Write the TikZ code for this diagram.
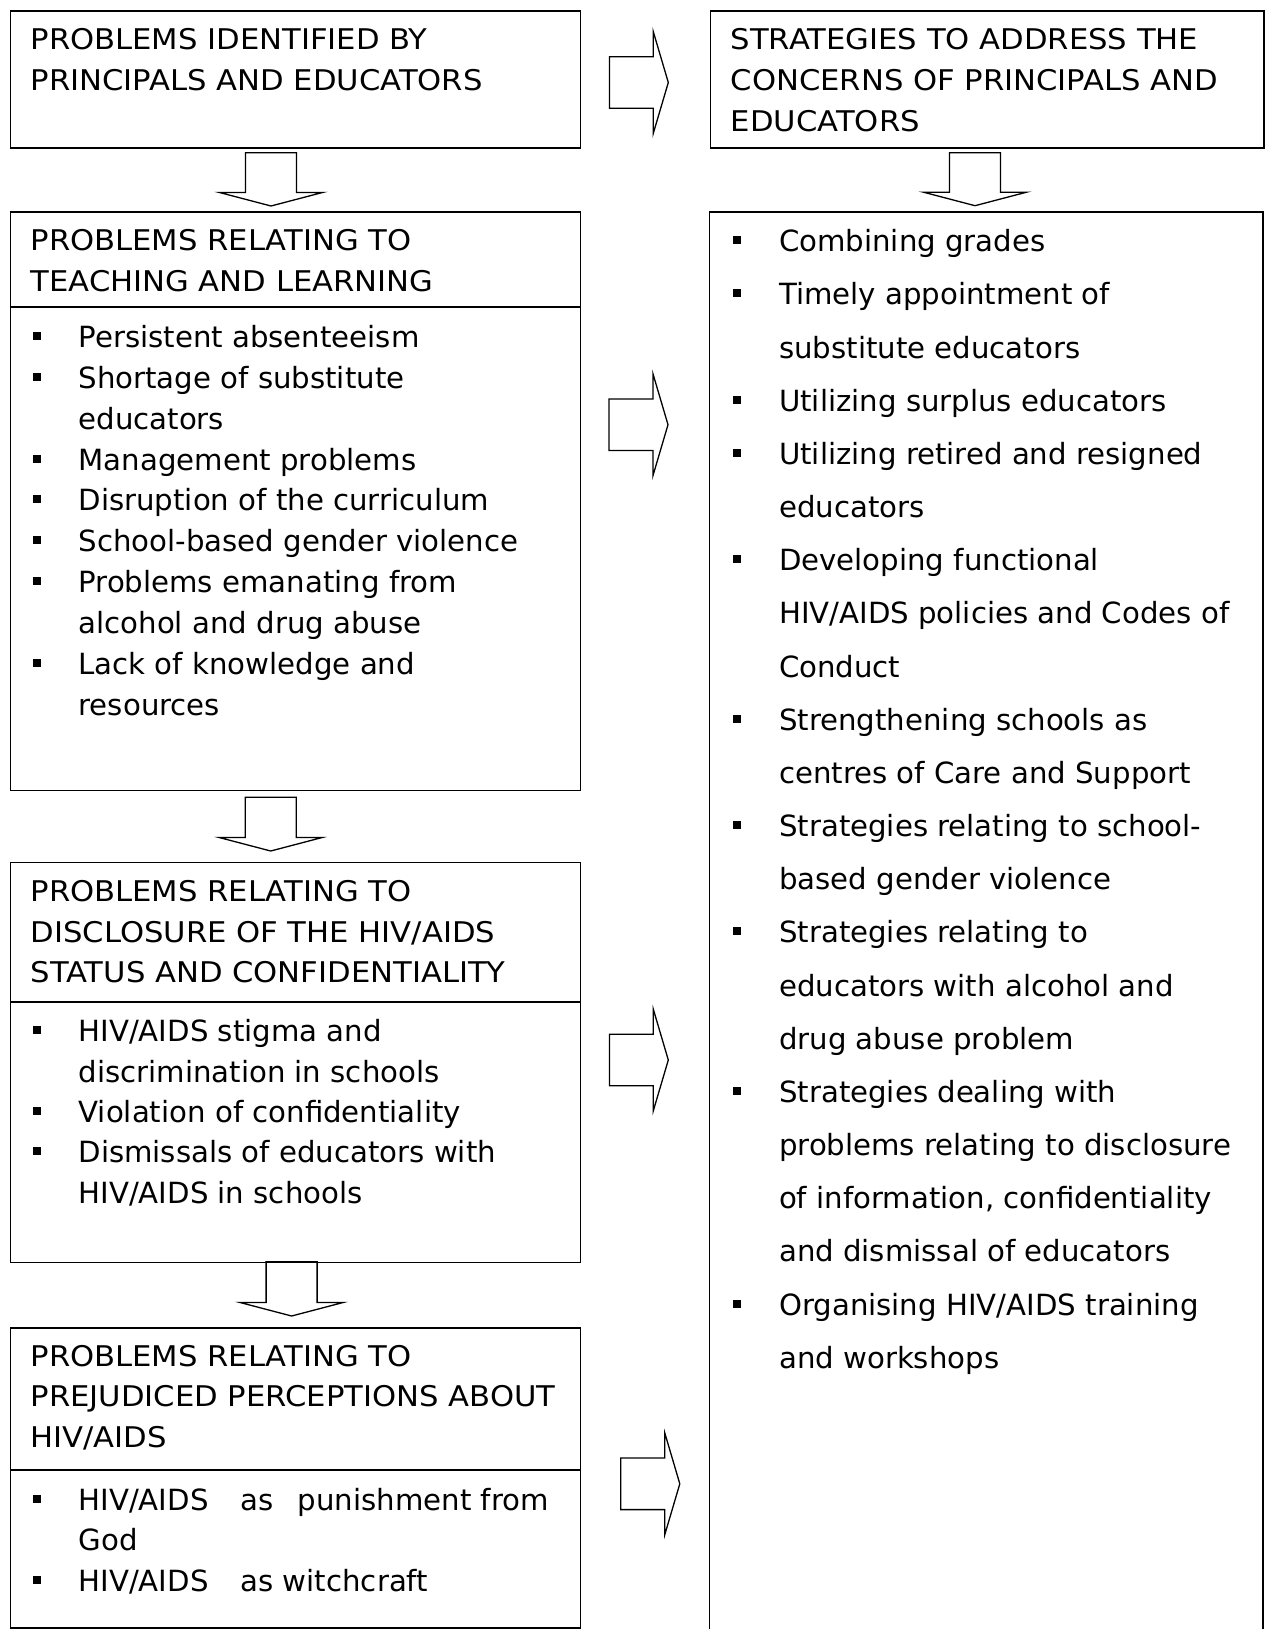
\documentclass[tikz,border=0pt]{standalone}
\usepackage{fontspec}
\setmainfont{DejaVu Sans}
\newfontfamily\hdfont[FakeStretch=1.075]{DejaVu Sans}
\begin{document}
\begin{tikzpicture}[x=1pt,y=-1pt,
  boxline/.style={draw, line width=1.8pt, inner sep=0pt, anchor=north west},
  arrowline/.style={line width=1.3pt, line join=miter},
  hd/.style={anchor=base west, inner sep=0pt, font=\hdfont\fontsize{28.5}{34}\selectfont},
  bd/.style={anchor=base west, inner sep=0pt, font=\fontsize{29.2}{35}\selectfont}]
\useasboundingbox (0,0) rectangle (1264,1629);
\fill[white] (0,0) rectangle (1264,1629);

\newcommand\blockdown[4]{% name, center x, shaft top y, tip y
  \coordinate (#1) at (#2,#3);
  \draw[arrowline] ({#2-25.5},#3) -- ({#2+25.5},#3) -- ({#2+25.5},{#4-13.5}) -- ({#2+51.5},{#4-13.5})
     -- (#2,#4) -- ({#2-51.5},{#4-13.5}) -- ({#2-25.5},{#4-13.5}) -- cycle;}
\newcommand\blockright[4]{% name, shaft left x, center y, tip x
  \coordinate (#1) at (#2,#3);
  \draw[arrowline] (#2,{#3-25.8}) -- ({#4-15},{#3-25.8}) -- ({#4-15},{#3-50.8}) -- (#4,#3)
     -- ({#4-15},{#3+50.8}) -- ({#4-15},{#3+25.8}) -- (#2,{#3+25.8}) -- cycle;}
\newcommand\bul[2]{\fill ({#1-3.9},{#2-7.5}) rectangle ({#1+3.9},{#2-15.5});}

% ---------- boxes ----------
\node[boxline, minimum width=570pt, minimum height=137pt] (b1) at (9.6,10) {};
\node[boxline, minimum width=553.5pt, minimum height=137pt] (b2) at (709.5,10) {};
\node[boxline, minimum width=570pt, minimum height=578.5pt] (b3) at (9.6,211) {};
\draw[line width=1.8pt] (b3.north west |- 0,307.3) -- (b3.north east |- 0,307.3);
\node[boxline, minimum width=570pt, minimum height=400pt] (b4) at (9.6,861.5) {};
\draw[line width=1.8pt] (b4.north west |- 0,1001.7) -- (b4.north east |- 0,1001.7);
\node[boxline, minimum width=570pt, minimum height=299.4pt] (b5) at (9.6,1327.3) {};
\draw[line width=1.8pt] (b5.north west |- 0,1470) -- (b5.north east |- 0,1470);
\coordinate (rtl) at (709.5,211.7);
\coordinate (rtr) at (1263,211.7);
\draw[line width=1.8pt] (709.5,1660) -- (rtl) -- (rtr) -- (1263,1660);

% ---------- block arrows ----------
\blockdown{d1}{271}{152.7}{206}
\blockdown{d2}{270.7}{797.3}{851}
\blockdown{d3}{291.6}{1261.7}{1316}
\blockdown{dr}{975}{152.7}{205.7}
\blockright{ra}{609.4}{82.5}{668.3}
\blockright{rb}{609}{424.7}{668}
\blockright{rc}{609.4}{1060}{668.3}
\blockright{rd}{620.7}{1483.8}{679.8}

% ---------- box 1 ----------
\node[hd] (t11) at (30.4,50) {PROBLEMS IDENTIFIED BY};
\node[hd] (t12) at (30.4,90.7) {PRINCIPALS AND EDUCATORS};

% ---------- box 2 ----------
\node[hd] (t21) at (730.6,50) {STRATEGIES TO ADDRESS THE};
\node[hd] (t22) at (730.6,90.7) {CONCERNS OF PRINCIPALS AND};
\node[hd] (t23) at (730.6,131.4) {EDUCATORS};

% ---------- box 3 ----------
\node[hd] (t31) at (30.4,250.7) {PROBLEMS RELATING TO};
\node[hd] (t32) at (30.4,291.4) {TEACHING AND LEARNING};
\node[bd] (l30) at (78.4,347.3) {Persistent absenteeism};
\node[bd] (l31) at (78.4,388.2) {Shortage of substitute};
\node[bd] (l32) at (78.4,429.1) {educators};
\node[bd] (l33) at (78.4,470.0) {Management problems};
\node[bd] (l34) at (78.4,510.9) {Disruption of the curriculum};
\node[bd] (l35) at (78.4,551.8) {School-based gender violence};
\node[bd] (l36) at (78.4,592.7) {Problems emanating from};
\node[bd] (l37) at (78.4,633.6) {alcohol and drug abuse};
\node[bd] (l38) at (78.4,674.5) {Lack of knowledge and};
\node[bd] (l39) at (78.4,715.4) {resources};
\foreach \yy in {347.3,388.2,470.0,510.9,551.8,592.7,674.5} {\bul{37}{\yy}}

% ---------- box 4 ----------
\node[hd] (t41) at (30.4,901.7) {PROBLEMS RELATING TO};
\node[hd] (t42) at (30.4,942.3) {DISCLOSURE OF THE HIV/AIDS};
\node[hd] (t43) at (30.4,982.9) {STATUS AND CONFIDENTIALITY};
\node[bd] (l40) at (78.4,1041.7) {HIV/AIDS stigma and};
\node[bd] (l41) at (78.4,1082.1) {discrimination in schools};
\node[bd] (l42) at (78.4,1122.5) {Violation of confidentiality};
\node[bd] (l43) at (78.4,1162.9) {Dismissals of educators with};
\node[bd] (l44) at (78.4,1203.3) {HIV/AIDS in schools};
\foreach \yy in {1041.7,1122.5,1162.9} {\bul{37}{\yy}}

% ---------- box 5 ----------
\node[hd] (t51) at (30.4,1366) {PROBLEMS RELATING TO};
\node[hd] (t52) at (30.4,1406.7) {PREJUDICED PERCEPTIONS ABOUT};
\node[hd] (t53) at (30.4,1447.3) {HIV/AIDS};
\node[bd] (l50) at (78.4,1510) {HIV/AIDS\hspace{32pt}as\hspace{24pt}punishment from};
\node[bd] (l51) at (78.4,1550.5) {God};
\node[bd] (l52) at (78.4,1591) {HIV/AIDS\hspace{32pt}as witchcraft};
\foreach \yy in {1510,1591} {\bul{37}{\yy}}

% ---------- right big box ----------
\node[bd] (r00) at (778.9,251.7) {Combining grades};
\node[bd] (r01) at (778.9,304.87) {Timely appointment of};
\node[bd] (r02) at (778.9,358.04) {substitute educators};
\node[bd] (r03) at (778.9,411.21) {Utilizing surplus educators};
\node[bd] (r04) at (778.9,464.38) {Utilizing retired and resigned};
\node[bd] (r05) at (778.9,517.55) {educators};
\node[bd] (r06) at (778.9,570.72) {Developing functional};
\node[bd] (r07) at (778.9,623.89) {HIV/AIDS policies and Codes of};
\node[bd] (r08) at (778.9,677.06) {Conduct};
\node[bd] (r09) at (778.9,730.23) {Strengthening schools as};
\node[bd] (r10) at (778.9,783.40) {centres of Care and Support};
\node[bd] (r11) at (778.9,836.57) {Strategies relating to school-};
\node[bd] (r12) at (778.9,889.74) {based gender violence};
\node[bd] (r13) at (778.9,942.91) {Strategies relating to};
\node[bd] (r14) at (778.9,996.08) {educators with alcohol and};
\node[bd] (r15) at (778.9,1049.25) {drug abuse problem};
\node[bd] (r16) at (778.9,1102.42) {Strategies dealing with};
\node[bd] (r17) at (778.9,1155.59) {problems relating to disclosure};
\node[bd] (r18) at (778.9,1208.76) {of information, confidentiality};
\node[bd] (r19) at (778.9,1261.93) {and dismissal of educators};
\node[bd] (r20) at (778.9,1315.10) {Organising HIV/AIDS training};
\node[bd] (r21) at (778.9,1368.27) {and workshops};
\foreach \yy in {251.7,304.87,411.21,464.38,570.72,730.23,836.57,942.91,1102.42,1315.10} {\bul{737}{\yy}}
\end{tikzpicture}
\end{document}
